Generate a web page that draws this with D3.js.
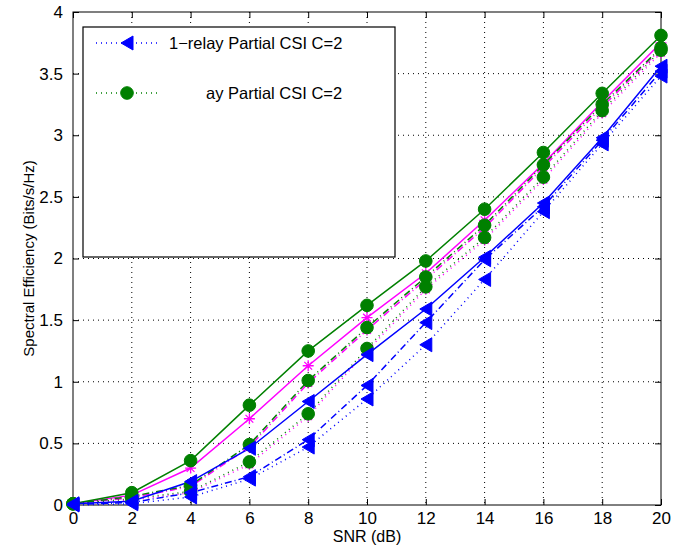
<!DOCTYPE html>
<html>
<head>
<meta charset="utf-8">
<script src="https://cdn.jsdelivr.net/npm/d3@7"></script>
<style>
  body { margin: 0; background: #fff; }
  svg { display: block; font-family: "Liberation Sans", Arial, sans-serif; }
</style>
</head>
<body>
<div id="chart"></div>
<script>
const snr = [0, 2, 4, 6, 8, 10, 12, 14, 16, 18, 20];
const xTicks = [0, 2, 4, 6, 8, 10, 12, 14, 16, 18, 20];
const yTicks = [0, 0.5, 1, 1.5, 2, 2.5, 3, 3.5, 4];

const greenSolid   = [0.01, 0.10, 0.36, 0.81, 1.25, 1.62, 1.98, 2.40, 2.86, 3.34, 3.81];
const greenDashDot = [0.01, 0.07, 0.16, 0.49, 1.01, 1.44, 1.85, 2.27, 2.76, 3.25, 3.71];
const greenDotted  = [0.01, 0.05, 0.11, 0.35, 0.74, 1.27, 1.77, 2.17, 2.66, 3.20, 3.69];
const magSolid     = [0.01, 0.08, 0.30, 0.70, 1.13, 1.52, 1.88, 2.31, 2.77, 3.27, 3.75];
const magDashDot   = [0.01, 0.06, 0.15, 0.47, 0.99, 1.42, 1.83, 2.25, 2.74, 3.23, 3.70];
const magDotted    = [0.01, 0.04, 0.10, 0.33, 0.72, 1.25, 1.75, 2.15, 2.64, 3.18, 3.67];
const blueSolid    = [0.01, 0.03, 0.19, 0.46, 0.84, 1.22, 1.59, 2.01, 2.45, 2.98, 3.56];
const blueDashDot  = [0.005, 0.02, 0.10, 0.23, 0.53, 0.97, 1.48, 1.99, 2.42, 2.96, 3.52];
const blueDotted   = [0.0, 0.01, 0.065, 0.21, 0.47, 0.86, 1.30, 1.83, 2.38, 2.93, 3.48];

const legendLabels = ["1\u2212relay Partial CSI C=2", "ay Partial CSI C=2"];

const svg = d3.select("#chart").append("svg")
  .attr("width", 679)
  .attr("height", 546);

const margin = { top: 12, right: 18, bottom: 41, left: 73 };
const width = 679 - margin.left - margin.right;
const height = 546 - margin.top - margin.bottom;

const g = svg.append("g").attr("transform", `translate(${margin.left},${margin.top})`);

const x = d3.scaleLinear().domain([0, 20]).range([0, width]);
const y = d3.scaleLinear().domain([0, 4]).range([height, 0]);

// grid
g.append("g").selectAll("line").data(xTicks.slice(1, -1)).enter().append("line")
  .attr("x1", d => x(d)).attr("x2", d => x(d)).attr("y1", 0).attr("y2", height)
  .attr("stroke", "#000").attr("stroke-width", 1).attr("stroke-dasharray", "1,4");
g.append("g").selectAll("line").data(yTicks.slice(1, -1)).enter().append("line")
  .attr("y1", d => y(d)).attr("y2", d => y(d)).attr("x1", 0).attr("x2", width)
  .attr("stroke", "#000").attr("stroke-width", 1).attr("stroke-dasharray", "1,4");

// axes
g.append("g").attr("transform", `translate(0,${height})`)
  .call(d3.axisBottom(x).tickValues(xTicks).tickSizeInner(-6).tickSizeOuter(0).tickPadding(7));
g.append("g")
  .call(d3.axisLeft(y).tickValues(yTicks).tickSizeInner(-6).tickSizeOuter(0).tickPadding(10)
    .tickFormat(d3.format("")));
g.append("g").call(d3.axisTop(x).tickValues(xTicks).tickSizeInner(-6).tickSizeOuter(0).tickFormat(""));
g.append("g").attr("transform", `translate(${width},0)`)
  .call(d3.axisRight(y).tickValues(yTicks).tickSizeInner(-6).tickSizeOuter(0).tickFormat(""));
g.selectAll(".domain").remove();
g.selectAll(".tick text").attr("font-size", 17).attr("fill", "#000").attr("font-family", "Liberation Sans, Arial, sans-serif");
g.append("rect").attr("width", width).attr("height", height)
  .attr("fill", "none").attr("stroke", "#000").attr("stroke-width", 1);

// series
const series = [
  { vals: magDotted, color: "#ff00ff", dash: "1,4", marker: "star" },
  { vals: magDashDot, color: "#ff00ff", dash: "7,3,1,3", marker: "star" },
  { vals: magSolid, color: "#ff00ff", dash: null, marker: "star" },
  { vals: greenDotted, color: "#008000", dash: "1,4", marker: "circle" },
  { vals: greenDashDot, color: "#008000", dash: "7,3,1,3", marker: "circle" },
  { vals: greenSolid, color: "#008000", dash: null, marker: "circle" },
  { vals: blueDotted, color: "#0000ff", dash: "1,4", marker: "tri" },
  { vals: blueDashDot, color: "#0000ff", dash: "7,3,1,3", marker: "tri" },
  { vals: blueSolid, color: "#0000ff", dash: null, marker: "tri" }
];

const line = d3.line().x((d, i) => x(snr[i])).y(d => y(d));

function drawMarker(sel, type, color) {
  if (type === "circle") {
    sel.append("circle").attr("r", 6.3).attr("fill", color).attr("stroke", color);
  } else if (type === "tri") {
    sel.append("path").attr("d", "M-6,0 L6,-7 L6,7 Z").attr("fill", color).attr("stroke", color);
  } else {
    const r = 5.5;
    const p = [0, 45, 90, 135].map(a => {
      const t = a * Math.PI / 180;
      return `M${-r * Math.cos(t)},${-r * Math.sin(t)} L${r * Math.cos(t)},${r * Math.sin(t)}`;
    }).join(" ");
    sel.append("path").attr("d", p).attr("stroke", color).attr("stroke-width", 1.3).attr("fill", "none");
  }
}

series.forEach(s => {
  g.append("path").datum(s.vals)
    .attr("d", line)
    .attr("fill", "none")
    .attr("stroke", s.color)
    .attr("stroke-width", 1.5)
    .attr("stroke-dasharray", s.dash);
});
series.forEach(s => {
  const m = g.append("g").selectAll("g").data(s.vals).enter().append("g")
    .attr("transform", (d, i) => `translate(${x(snr[i])},${y(d)})`);
  drawMarker(m, s.marker, s.color);
});

// legend
const legend = svg.append("g");
legend.append("rect").attr("x", 83).attr("y", 27).attr("width", 312).attr("height", 230)
  .attr("fill", "#fff").attr("stroke", "#000").attr("stroke-width", 1.2);

const legendItems = [
  { label: legendLabels[0], color: "#0000ff", marker: "tri", ly: 43, tx: 169 },
  { label: legendLabels[1], color: "#008000", marker: "circle", ly: 93, tx: 206 }
];
legendItems.forEach(d => {
  legend.append("line").attr("x1", 96).attr("x2", 157).attr("y1", d.ly).attr("y2", d.ly)
    .attr("stroke", d.color).attr("stroke-width", 1.5).attr("stroke-dasharray", "1,4");
  const mk = legend.append("g").attr("transform", `translate(127,${d.ly})`);
  drawMarker(mk, d.marker, d.color);
  legend.append("text").attr("x", d.tx).attr("y", d.ly + 6)
    .attr("font-size", 16.5).attr("fill", "#000").text(d.label);
});

// axis labels
svg.append("text").attr("x", margin.left + width / 2).attr("y", 542)
  .attr("text-anchor", "middle").attr("font-size", 16).text("SNR (dB)");
svg.append("text").attr("transform", `translate(34,${margin.top + height / 2}) rotate(-90)`)
  .attr("text-anchor", "middle").attr("font-size", 15).text("Spectral Efficiency (Bits/s/Hz)");
</script>
</body>
</html>
